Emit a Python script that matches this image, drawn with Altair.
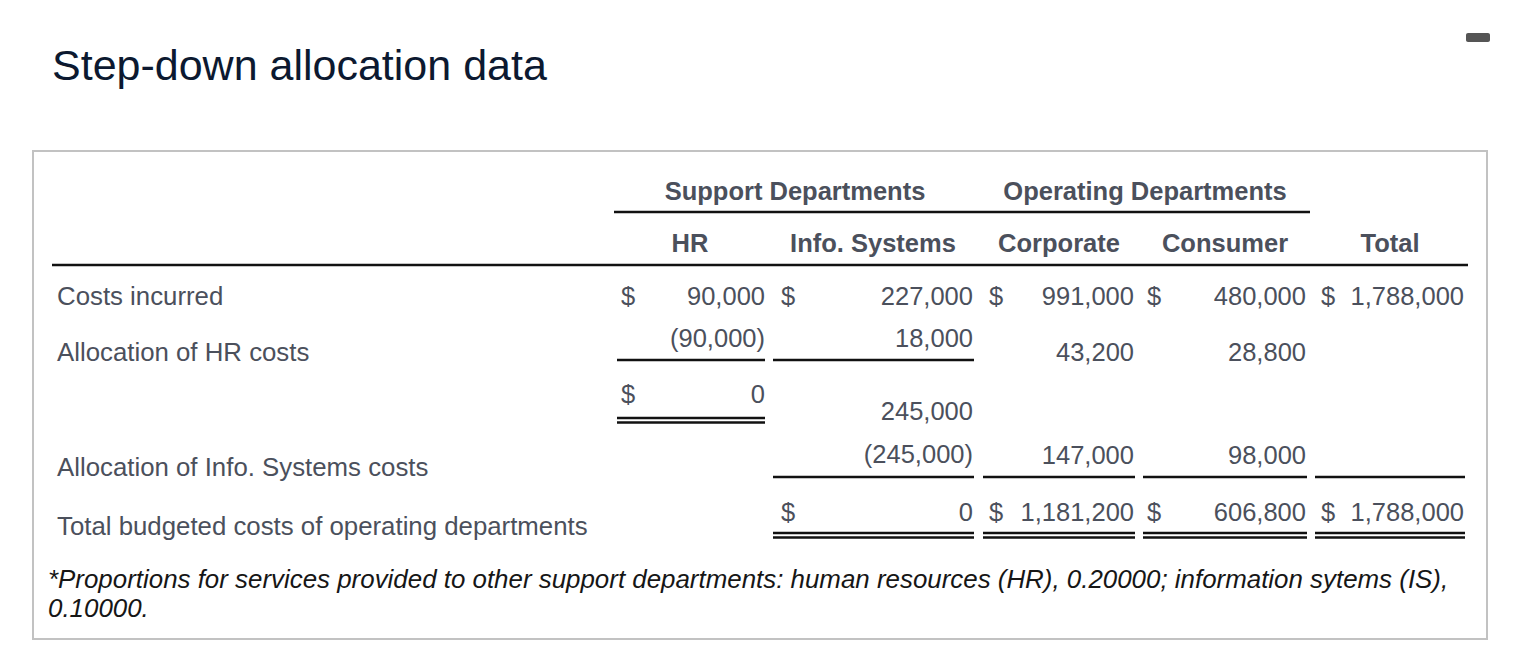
import altair as alt
import pandas as pd

# ---------------- data ----------------
title_text = "Step-down allocation data"
group_headers = ["Support Departments", "Operating Departments"]
columns = ["HR", "Info. Systems", "Corporate", "Consumer", "Total"]
row_labels = [
    "Costs incurred",
    "Allocation of HR costs",
    "Allocation of Info. Systems costs",
    "Total budgeted costs of operating departments",
]
costs_incurred = [90000, 227000, 991000, 480000, 1788000]
alloc_hr = [-90000, 18000, 43200, 28800, None]
after_hr = [0, 245000, None, None, None]
alloc_is = [None, -245000, 147000, 98000, None]
total_budgeted = [None, 0, 1181200, 606800, 1788000]
dollar_costs = [True, True, True, True, True]
dollar_after_hr = [True, False, False, False, False]
dollar_total = [False, True, True, True, True]
footnote = [
    "*Proportions for services provided to other support departments: human resources (HR), 0.20000; information sytems (IS),",
    "0.10000.",
]

# ---------------- layout (page pixels) ----------------
W, H = 1514, 636
OFF = 8
col_left = [617, 773, 983, 1143, 1315]
col_right = [765, 974, 1135, 1307, 1465]
dollar_x = [621, 781, 989, 1147, 1321]
num_right = [765, 973, 1134, 1306, 1464]
header_center = [690, 873, 1059, 1225, 1390]
group_center = [795, 1145]
row_y = {
    "costs": [305, 305, 305, 305, 305],
    "alloc_hr": [347, 347, 361, 361, 361],
    "after_hr": [403, 420, 420, 420, 420],
    "alloc_is": [463, 463, 464, 464, 464],
    "total": [521, 521, 521, 521, 521],
}
label_y = [305, 361, 476, 535]

BODY = "#4b505c"
FONT = "Liberation Sans"
FS = 25.5


def fmt(v):
    if v is None:
        return None
    if v < 0:
        return "({:,})".format(-v)
    return "{:,}".format(v)


xs = alt.Scale(domain=[OFF, OFF + W], nice=False, zero=False)
ys = alt.Scale(domain=[OFF, OFF + H], nice=False, zero=False, reverse=True)


def X(f="x"):
    return alt.X(f + ":Q", scale=xs, axis=None)


def Y(f="y"):
    return alt.Y(f + ":Q", scale=ys, axis=None)


# numbers
num_rows = []
for key, vals in [("costs", costs_incurred), ("alloc_hr", alloc_hr), ("after_hr", after_hr),
                  ("alloc_is", alloc_is), ("total", total_budgeted)]:
    for i, v in enumerate(vals):
        if v is not None:
            num_rows.append({"x": num_right[i], "y": row_y[key][i], "t": fmt(v)})
nums = pd.DataFrame(num_rows)

# dollar signs
dol_rows = []
for key, flags in [("costs", dollar_costs), ("after_hr", dollar_after_hr), ("total", dollar_total)]:
    for i, f in enumerate(flags):
        if f:
            dol_rows.append({"x": dollar_x[i], "y": row_y[key][i], "t": "$"})
dols = pd.DataFrame(dol_rows)

# headers
hdr = pd.DataFrame(
    [{"x": group_center[i], "y": 200, "t": g} for i, g in enumerate(group_headers)]
    + [{"x": header_center[i], "y": 252, "t": c} for i, c in enumerate(columns)]
)

labels = pd.DataFrame([{"x": 57, "y": label_y[i], "t": t} for i, t in enumerate(row_labels)])
foot = pd.DataFrame([{"x": 48, "y": 588 + 29 * i, "t": t} for i, t in enumerate(footnote)])
ttl = pd.DataFrame([{"x": 52, "y": 80, "t": title_text}])

# rules
segs = [
    (614, 1310, 212, 2.6),
    (52, 1468, 265, 2.6),
]
for i in (0, 1):
    segs.append((col_left[i], col_right[i], 360, 2.6))
for yy in (418, 422.5):
    segs.append((col_left[0], col_right[0], yy, 2.5))
for i in (1, 2, 3, 4):
    segs.append((col_left[i], col_right[i], 477, 2.6))
    for yy in (533, 537.5):
        segs.append((col_left[i], col_right[i], yy, 2.5))
rules = pd.DataFrame([{"x": a, "x2": b, "y": c, "w": w} for a, b, c, w in segs])

box = pd.DataFrame([{"x": 33, "x2": 1487, "y": 151, "y2": 639}])
icon = pd.DataFrame([{"x": 1466, "x2": 1490, "y": 33, "y2": 42}])


def text_layer(df, align, color=BODY, size=FS, weight="normal", style="normal"):
    return alt.Chart(df).mark_text(
        align=align, baseline="alphabetic", font=FONT, fontSize=size,
        fontWeight=weight, fontStyle=style, color=color,
    ).encode(x=X(), y=Y(), text="t:N")


layers = [
    alt.Chart(box).mark_rect(fill="white", stroke="#c2c2c2", strokeWidth=2).encode(
        x=X(), x2="x2:Q", y=Y(), y2="y2:Q"),
    alt.Chart(icon).mark_rect(fill="#555555", cornerRadius=2).encode(
        x=X(), x2="x2:Q", y=Y(), y2="y2:Q"),
    alt.Chart(rules).mark_rule(color="#111111").encode(
        x=X(), x2="x2:Q", y=Y(),
        strokeWidth=alt.StrokeWidth("w:Q", scale=None, legend=None)),
    text_layer(ttl, "left", color="#0c1930", size=43),
    text_layer(hdr, "center", weight="bold"),
    text_layer(labels, "left", size=25.8),
    text_layer(dols, "left"),
    text_layer(nums, "right"),
    text_layer(foot, "left", color="#161616", size=25.9, style="italic"),
]

chart = alt.layer(*layers).properties(
    width=W, height=H, autosize=alt.AutoSizeParams(type="none"), padding=0
).configure_view(stroke="transparent", strokeWidth=0)

chart.save("out.html", embed_options={"renderer": "svg", "actions": False})
